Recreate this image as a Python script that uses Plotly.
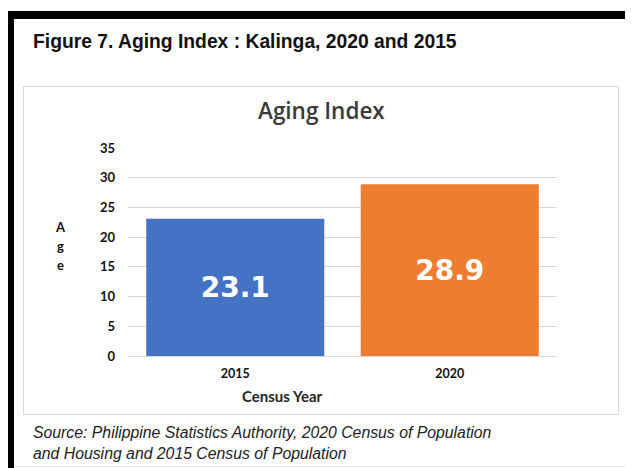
import plotly.graph_objects as go

# Data
years = ["2015", "2020"]
aging_index = [23.1, 28.9]
bar_colors = ["#4472C4", "#ED7D31"]
y_ticks = [0, 5, 10, 15, 20, 25, 30, 35]

OFF = 8  # page body margin offset
W, H = 633 - OFF, 468 - OFF
L, R, T, B = 128 - OFF, 557 - OFF, 148 - OFF, 356 - OFF  # plot area in figure pixels


def px(x):
    return (x - OFF - L) / (R - L)


def py(y):
    return (B - (y - OFF)) / (B - T)


fig = go.Figure()
fig.add_trace(go.Bar(
    x=years, y=aging_index,
    marker=dict(color=bar_colors, line=dict(width=0)),
    text=[f"{v:.1f}" for v in aging_index],
    textposition="inside", insidetextanchor="middle",
    textfont=dict(family="DejaVu Sans", size=28, color="white", weight="bold"),
    textangle=0,
    width=0.83,
    hoverinfo="skip",
))

shapes = [
    # outer black frame
    dict(type="rect", xref="paper", yref="paper", x0=px(7), x1=px(640), y0=py(19), y1=py(11),
         fillcolor="black", line=dict(width=0), layer="below"),
    dict(type="rect", xref="paper", yref="paper", x0=px(7), x1=px(14), y0=py(470), y1=py(11),
         fillcolor="black", line=dict(width=0), layer="below"),
    dict(type="line", xref="paper", yref="paper", x0=px(14), x1=px(640), y0=py(466.5), y1=py(466.5),
         line=dict(color="#e3e3e3", width=1), layer="below"),
    # inner chart box
    dict(type="rect", xref="paper", yref="paper", x0=px(23.5), x1=px(618.5), y0=py(414.5), y1=py(86.5),
         line=dict(color="#d9d9d9", width=1), layer="below"),
]

annotations = [
    dict(text="<b>Figure 7. Aging Index : Kalinga, 2020 and 2015</b>", xref="paper", yref="paper",
         x=px(31), y=py(41), xanchor="left", yanchor="middle", showarrow=False,
         font=dict(family="Liberation Sans", size=19.3, color="#111111")),
    dict(text="Aging Index", xref="paper", yref="paper",
         x=px(321), y=py(110), xanchor="center", yanchor="middle", showarrow=False,
         font=dict(family="Open Sans", size=22.5, color="#3a3a3a", weight=600)),
    dict(text="<b>Census Year</b>", xref="paper", yref="paper",
         x=px(282), y=py(396), xanchor="center", yanchor="middle", showarrow=False,
         font=dict(family="Lato", size=15, color="#262626")),
    dict(text="<i>Source: Philippine Statistics Authority, 2020 Census of Population<br>and Housing and 2015 Census of Population</i>",
         xref="paper", yref="paper", x=px(31), y=py(443), xanchor="left", yanchor="middle",
         align="left", showarrow=False,
         font=dict(family="Liberation Sans", size=15.8, color="#222222")),
]
for letter, yy in zip(["A", "g", "e"], [227, 246, 265]):
    annotations.append(dict(text=f"<b>{letter}</b>", xref="paper", yref="paper",
                            x=px(60), y=py(yy), xanchor="center", yanchor="middle", showarrow=False,
                            font=dict(family="Lato", size=13, color="#111111")))

fig.update_layout(
    width=W, height=H,
    margin=dict(l=L, r=W - R, t=T, b=H - B, pad=0),
    paper_bgcolor="white", plot_bgcolor="white",
    showlegend=False,
    bargap=0.17,
    shapes=shapes,
    annotations=annotations,
    xaxis=dict(type="category", showgrid=False, zeroline=False, showline=False,
               tickfont=dict(family="Lato", size=12.5, color="#111111", weight="bold"),
               ticklabelstandoff=8, fixedrange=True),
    yaxis=dict(range=[0, 35], tickvals=y_ticks, showgrid=True, gridcolor="#d9d9d9", gridwidth=1,
               zeroline=True, zerolinecolor="#d9d9d9", zerolinewidth=1, showline=False,
               tickfont=dict(family="Lato", size=13, color="#111111", weight="bold"),
               ticklabelstandoff=12, fixedrange=True),
)

fig.write_html("out.html")
